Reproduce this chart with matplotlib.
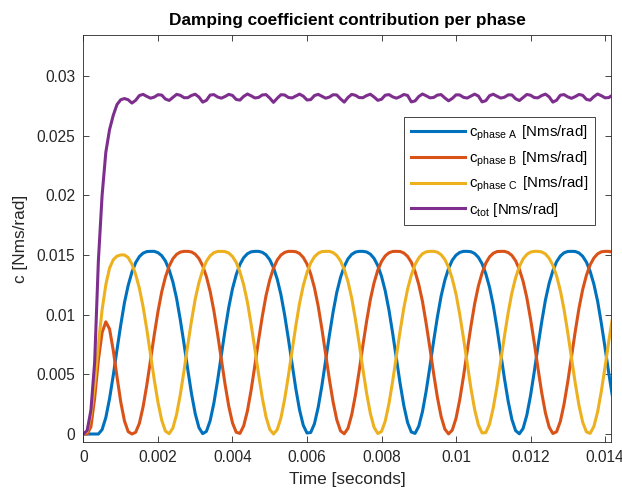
import numpy as np
import matplotlib
matplotlib.use("Agg")
import matplotlib.pyplot as plt

plt.rcParams['font.family'] = ['Liberation Sans', 'DejaVu Sans']
plt.rcParams['mathtext.fontset'] = 'custom'
plt.rcParams['mathtext.rm'] = 'Liberation Sans'
plt.rcParams['mathtext.it'] = 'Liberation Sans'

time = np.linspace(0.0, 0.0142, 143)

c_phase_a = [
    0.0, 0.0, 0.0, 0.0, 0.00000, 0.00037, 0.00138, 0.00296, 0.00492, 0.00706,
    0.00912, 0.01100, 0.01245, 0.01355, 0.01435, 0.01486, 0.01515, 0.01528, 0.01530, 0.01530,
    0.01519, 0.01494, 0.01449, 0.01375, 0.01274, 0.01135, 0.00955, 0.00753, 0.00540, 0.00337,
    0.00170, 0.00053, 0.00003, 0.00022, 0.00111, 0.00258, 0.00448, 0.00660, 0.00869, 0.01061,
    0.01217, 0.01334, 0.01421, 0.01477, 0.01510, 0.01526, 0.01530, 0.01530, 0.01522, 0.01501,
    0.01460, 0.01394, 0.01298, 0.01168, 0.00997, 0.00798, 0.00586, 0.00379, 0.00202, 0.00073,
    0.00008, 0.00013, 0.00086, 0.00223, 0.00405, 0.00613, 0.00825, 0.01021, 0.01187, 0.01312,
    0.01404, 0.01467, 0.01505, 0.01524, 0.01530, 0.01530, 0.01525, 0.01507, 0.01471, 0.01411,
    0.01321, 0.01199, 0.01038, 0.00843, 0.00632, 0.00422, 0.00237, 0.00096, 0.00017, 0.00005,
    0.00065, 0.00188, 0.00362, 0.00567, 0.00780, 0.00980, 0.01155, 0.01288, 0.01387, 0.01456,
    0.01498, 0.01521, 0.01530, 0.01530, 0.01527, 0.01512, 0.01480, 0.01426, 0.01342, 0.01229,
    0.01077, 0.00887, 0.00678, 0.00465, 0.00274, 0.00122, 0.00028, 0.00002, 0.00046, 0.00157,
    0.00321, 0.00521, 0.00735, 0.00939, 0.01122, 0.01263, 0.01368, 0.01443, 0.01491, 0.01518,
    0.01529, 0.01530, 0.01529, 0.01517, 0.01489, 0.01440, 0.01363, 0.01256, 0.01114, 0.00929,
    0.00724, 0.00511, 0.00312,
]

c_phase_b = [
    0.0, 0.00000, 0.00060, 0.00300, 0.00620, 0.00850, 0.00940, 0.00880, 0.00700, 0.00480,
    0.00270, 0.00110, 0.00020, 0.00000, 0.00014, 0.00089, 0.00227, 0.00410, 0.00619, 0.00830,
    0.01026, 0.01190, 0.01315, 0.01406, 0.01468, 0.01505, 0.01524, 0.01530, 0.01530, 0.01525,
    0.01506, 0.01470, 0.01409, 0.01318, 0.01195, 0.01033, 0.00837, 0.00626, 0.00418, 0.00233,
    0.00093, 0.00015, 0.00005, 0.00068, 0.00192, 0.00367, 0.00573, 0.00786, 0.00985, 0.01159,
    0.01291, 0.01389, 0.01457, 0.01499, 0.01521, 0.01530, 0.01530, 0.01527, 0.01512, 0.01479,
    0.01424, 0.01340, 0.01225, 0.01072, 0.00881, 0.00673, 0.00460, 0.00269, 0.00119, 0.00026,
    0.00002, 0.00048, 0.00161, 0.00326, 0.00527, 0.00741, 0.00944, 0.01126, 0.01266, 0.01372,
    0.01445, 0.01492, 0.01518, 0.01529, 0.01530, 0.01529, 0.01516, 0.01488, 0.01439, 0.01361,
    0.01253, 0.01110, 0.00923, 0.00719, 0.00505, 0.00307, 0.00147, 0.00041, 0.00001, 0.00033,
    0.00131, 0.00287, 0.00481, 0.00695, 0.00902, 0.01090, 0.01239, 0.01349, 0.01431, 0.01484,
    0.01514, 0.01528, 0.01530, 0.01530, 0.01520, 0.01496, 0.01451, 0.01380, 0.01280, 0.01143,
    0.00965, 0.00764, 0.00551, 0.00347, 0.00177, 0.00058, 0.00004, 0.00019, 0.00105, 0.00250,
    0.00438, 0.00649, 0.00858, 0.01052, 0.01210, 0.01329, 0.01417, 0.01474, 0.01509, 0.01526,
    0.01530, 0.01530, 0.01523,
]

c_phase_c = [
    0.0, 0.00020, 0.00160, 0.00420, 0.00750, 0.01040, 0.01250, 0.01390, 0.01460, 0.01490,
    0.01500, 0.01500, 0.01478, 0.01423, 0.01337, 0.01222, 0.01067, 0.00876, 0.00667, 0.00455,
    0.00265, 0.00116, 0.00024, 0.00003, 0.00050, 0.00165, 0.00331, 0.00532, 0.00746, 0.00949,
    0.01130, 0.01269, 0.01372, 0.01447, 0.01493, 0.01519, 0.01529, 0.01530, 0.01528, 0.01516,
    0.01487, 0.01437, 0.01358, 0.01250, 0.01106, 0.00918, 0.00713, 0.00500, 0.00303, 0.00143,
    0.00039, 0.00000, 0.00036, 0.00134, 0.00292, 0.00487, 0.00700, 0.00907, 0.01095, 0.01242,
    0.01353, 0.01433, 0.01485, 0.01514, 0.01528, 0.01530, 0.01530, 0.01520, 0.01495, 0.01450,
    0.01378, 0.01277, 0.01139, 0.00960, 0.00759, 0.00545, 0.00342, 0.00173, 0.00056, 0.00004,
    0.00021, 0.00108, 0.00254, 0.00443, 0.00654, 0.00864, 0.01057, 0.01213, 0.01331, 0.01419,
    0.01475, 0.01510, 0.01526, 0.01530, 0.01530, 0.01523, 0.01502, 0.01462, 0.01396, 0.01300,
    0.01172, 0.01002, 0.00804, 0.00591, 0.00384, 0.00206, 0.00076, 0.00009, 0.00012, 0.00083,
    0.00219, 0.00399, 0.00608, 0.00820, 0.01016, 0.01183, 0.01309, 0.01402, 0.01466, 0.01504,
    0.01524, 0.01530, 0.01530, 0.01525, 0.01508, 0.01472, 0.01413, 0.01324, 0.01202, 0.01043,
    0.00848, 0.00637, 0.00427, 0.00241, 0.00099, 0.00018, 0.00005, 0.00063, 0.00184, 0.00357,
    0.00562, 0.00775, 0.00975,
]

c_tot = [
    0.0000, 0.0003, 0.0020, 0.0060, 0.0145, 0.0200, 0.0236, 0.0255, 0.0267, 0.0276,
    0.02800, 0.02810, 0.02800, 0.02772, 0.02795, 0.02835, 0.02845, 0.02828, 0.02813, 0.02822,
    0.02842, 0.02839, 0.02806, 0.02794, 0.02820, 0.02845, 0.02837, 0.02817, 0.02817, 0.02836,
    0.02846, 0.02822, 0.02780, 0.02795, 0.02839, 0.02843, 0.02823, 0.02813, 0.02827, 0.02845,
    0.02836, 0.02802, 0.02797, 0.02828, 0.02848, 0.02833, 0.02815, 0.02819, 0.02840, 0.02843,
    0.02814, 0.02778, 0.02812, 0.02842, 0.02840, 0.02819, 0.02815, 0.02831, 0.02847, 0.02830,
    0.02798, 0.02801, 0.02835, 0.02845, 0.02829, 0.02813, 0.02822, 0.02842, 0.02840, 0.02807,
    0.02780, 0.02819, 0.02845, 0.02837, 0.02818, 0.02817, 0.02835, 0.02846, 0.02823, 0.02795,
    0.02804, 0.02838, 0.02843, 0.02824, 0.02813, 0.02826, 0.02844, 0.02836, 0.02782, 0.02790,
    0.02827, 0.02848, 0.02833, 0.02816, 0.02819, 0.02839, 0.02843, 0.02815, 0.02791, 0.02811,
    0.02841, 0.02840, 0.02820, 0.02814, 0.02831, 0.02847, 0.02831, 0.02782, 0.02792, 0.02834,
    0.02846, 0.02829, 0.02814, 0.02821, 0.02841, 0.02840, 0.02808, 0.02793, 0.02818, 0.02844,
    0.02838, 0.02818, 0.02816, 0.02835, 0.02847, 0.02824, 0.02780, 0.02796, 0.02838, 0.02843,
    0.02824, 0.02812, 0.02826, 0.02844, 0.02837, 0.02803, 0.02796, 0.02826, 0.02848, 0.02834,
    0.02816, 0.02818, 0.02839,
]

series_labels = [r'$\mathrm{c_{phase\ A}}\,$ [Nms/rad]',
                 r'$\mathrm{c_{phase\ B}}\,$ [Nms/rad]',
                 r'$\mathrm{c_{phase\ C}}\,$ [Nms/rad]',
                 r'$\mathrm{c_{tot}}$ [Nms/rad]']
series_colors = ['#0072BD', '#D95319', '#EDB120', '#7E2F8E']

x_ticks = [0, 0.002, 0.004, 0.006, 0.008, 0.01, 0.012, 0.014]
x_ticklabels = ['0', '0.002', '0.004', '0.006', '0.008', '0.01', '0.012', '0.014']
y_ticks = [0, 0.005, 0.01, 0.015, 0.02, 0.025, 0.03]
y_ticklabels = ['0', '0.005', '0.01', '0.015', '0.02', '0.025', '0.03']

# ---------- plot ----------
fig = plt.figure(figsize=(6.22, 4.99), dpi=100)
ax = fig.add_axes([0.1342, 0.1142, 0.8481, 0.8156])

axis_grey = '#262626'
for values, lab, col in zip([c_phase_a, c_phase_b, c_phase_c, c_tot],
                            series_labels, series_colors):
    ax.plot(time, values, color=col, linewidth=2.2, label=lab,
            solid_joinstyle='round')

ax.set_xlim(0, 0.01416)
ax.set_ylim(-0.00067, 0.03342)
ax.set_xticks(x_ticks)
ax.set_xticklabels(x_ticklabels)
ax.set_yticks(y_ticks)
ax.set_yticklabels(y_ticklabels)

ax.tick_params(direction='in', length=4, width=0.6, colors=axis_grey,
               labelsize=11.2, top=True, right=True, pad=6)
ax.tick_params(axis='x', labeltop=False)
for s in ax.spines.values():
    s.set_color(axis_grey)
    s.set_linewidth(0.6)

ax.set_xlabel('Time [seconds]', fontsize=12.4, color=axis_grey, labelpad=5)
ax.set_ylabel('c [Nms/rad]', fontsize=12.4, color=axis_grey, labelpad=6)
ax.set_title('Damping coefficient contribution per phase', fontsize=12.4,
             fontweight='bold', color='black', pad=7)

leg = ax.legend(loc='upper left', bbox_to_anchor=(404 / 622, 1 - 117 / 499),
                bbox_transform=fig.transFigure, fontsize=10.8,
                frameon=True, fancybox=False, framealpha=1,
                edgecolor=axis_grey, handlelength=3.6, handletextpad=0.3,
                labelspacing=0.42, borderpad=0.45, borderaxespad=0)
leg.get_frame().set_linewidth(0.6)

fig.savefig('out.png', dpi=100, facecolor='white')
